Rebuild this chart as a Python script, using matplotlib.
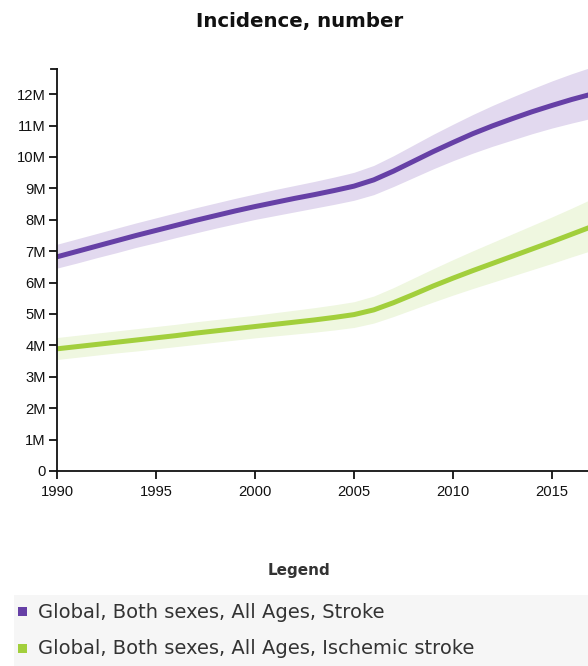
import matplotlib
matplotlib.use("Agg")
import matplotlib.pyplot as plt
from matplotlib.patches import Rectangle
from matplotlib.lines import Line2D
from matplotlib.ticker import FuncFormatter, MultipleLocator

years = list(range(1990, 2020))

stroke = [6.82, 6.99, 7.16, 7.33, 7.50, 7.66, 7.82, 7.98, 8.13, 8.28,
          8.42, 8.55, 8.68, 8.80, 8.93, 9.07, 9.27, 9.55, 9.86, 10.17,
          10.46, 10.74, 10.99, 11.22, 11.44, 11.64, 11.83, 12.00, 12.16, 12.30]
stroke_upper = [7.22, 7.39, 7.56, 7.73, 7.90, 8.06, 8.22, 8.38, 8.53, 8.68,
                8.82, 8.96, 9.09, 9.22, 9.36, 9.51, 9.73, 10.04, 10.38, 10.72,
                11.04, 11.35, 11.64, 11.91, 12.17, 12.42, 12.65, 12.86, 13.05, 13.22]
stroke_lower = [6.46, 6.62, 6.79, 6.95, 7.12, 7.27, 7.43, 7.58, 7.73, 7.87,
                8.01, 8.13, 8.25, 8.37, 8.49, 8.62, 8.80, 9.06, 9.34, 9.62,
                9.88, 10.12, 10.34, 10.54, 10.74, 10.92, 11.08, 11.23, 11.37, 11.50]

ischemic = [3.89, 3.96, 4.03, 4.10, 4.17, 4.24, 4.31, 4.39, 4.46, 4.53,
            4.60, 4.67, 4.74, 4.81, 4.89, 4.98, 5.13, 5.36, 5.62, 5.89,
            6.14, 6.38, 6.61, 6.84, 7.07, 7.30, 7.54, 7.78, 8.02, 8.24]
ischemic_upper = [4.25, 4.32, 4.39, 4.46, 4.53, 4.60, 4.67, 4.75, 4.82, 4.89,
                  4.96, 5.04, 5.12, 5.20, 5.29, 5.39, 5.57, 5.84, 6.14, 6.44,
                  6.73, 7.01, 7.28, 7.55, 7.82, 8.09, 8.37, 8.66, 8.93, 9.18]
ischemic_lower = [3.55, 3.62, 3.69, 3.76, 3.82, 3.89, 3.96, 4.03, 4.10, 4.17,
                  4.24, 4.30, 4.36, 4.42, 4.49, 4.57, 4.71, 4.92, 5.15, 5.38,
                  5.60, 5.81, 6.01, 6.21, 6.41, 6.61, 6.82, 7.02, 7.22, 7.40]

series_labels = ["Global, Both sexes, All Ages, Stroke",
                 "Global, Both sexes, All Ages, Ischemic stroke"]
line_colors = ["#6640a6", "#a2cf3c"]
band_colors = ["#e2d9ef", "#eff7e0"]

W, H = 588, 666
fig = plt.figure(figsize=(W / 100, H / 100), dpi=100)
fig.patch.set_facecolor("white")

# plot area in pixel geometry
left_px, right_px, top_px, bottom_px = 57, 588, 69, 471
ax = fig.add_axes([left_px / W, 1 - bottom_px / H,
                   (right_px - left_px) / W, (bottom_px - top_px) / H])

series = [(stroke, stroke_lower, stroke_upper), (ischemic, ischemic_lower, ischemic_upper)]
for (mid, lo, hi), lc, bc in zip(series, line_colors, band_colors):
    ax.fill_between(years, lo, hi, color=bc, linewidth=0, zorder=1)
    ax.plot(years, mid, color=lc, linewidth=3.6, solid_capstyle="butt",
            solid_joinstyle="round", zorder=2)

ax.set_xlim(1990, 2016.82)
ax.set_ylim(0, 12.8)
ax.yaxis.set_major_locator(MultipleLocator(1))
ax.xaxis.set_major_locator(MultipleLocator(5))
ax.yaxis.set_major_formatter(FuncFormatter(lambda v, p: "0" if v == 0 else f"{int(round(v))}M"))
ax.xaxis.set_major_formatter(FuncFormatter(lambda v, p: f"{int(v)}"))

for s in ["top", "right"]:
    ax.spines[s].set_visible(False)
for s in ["left", "bottom"]:
    ax.spines[s].set_linewidth(1.3)
    ax.spines[s].set_color("#111111")
ax.tick_params(axis="both", length=6, width=1.3, color="#111111",
               labelsize=10.6, labelcolor="#111111")
ax.tick_params(axis="x", pad=4)
ax.tick_params(axis="y", pad=2)
for lab in ax.get_xticklabels() + ax.get_yticklabels():
    lab.set_fontfamily("Liberation Sans")

# outer end tick at top of the y axis
ax.add_line(Line2D([-6 / (right_px - left_px), 0], [1, 1], transform=ax.transAxes,
                   color="#111111", linewidth=1.3, clip_on=False))

fig.text(300 / W, 1 - 22 / H, "Incidence, number", ha="center", va="center",
         fontsize=14.2, fontweight="bold", fontfamily="DejaVu Sans", color="#111111")

# legend block
fig.text(299 / W, 1 - 570 / H, "Legend", ha="center", va="center",
         fontsize=11, fontweight="bold", fontfamily="DejaVu Sans", color="#333333")
fig.patches.append(Rectangle((14 / W, 0), (W - 14) / W, (H - 595) / H,
                             transform=fig.transFigure, facecolor="#f6f6f6",
                             edgecolor="none", zorder=0))
row_y = [612, 649]
for label, col, yy in zip(series_labels, line_colors, row_y):
    fig.patches.append(Rectangle((18 / W, 1 - (yy + 4) / H), 9 / W, 9 / H,
                                 transform=fig.transFigure, facecolor=col,
                                 edgecolor="none", zorder=1))
    fig.text(38 / W, 1 - yy / H, label, ha="left", va="center", fontsize=14,
             fontfamily="DejaVu Sans", color="#333333")

fig.savefig("out.png", dpi=100)
